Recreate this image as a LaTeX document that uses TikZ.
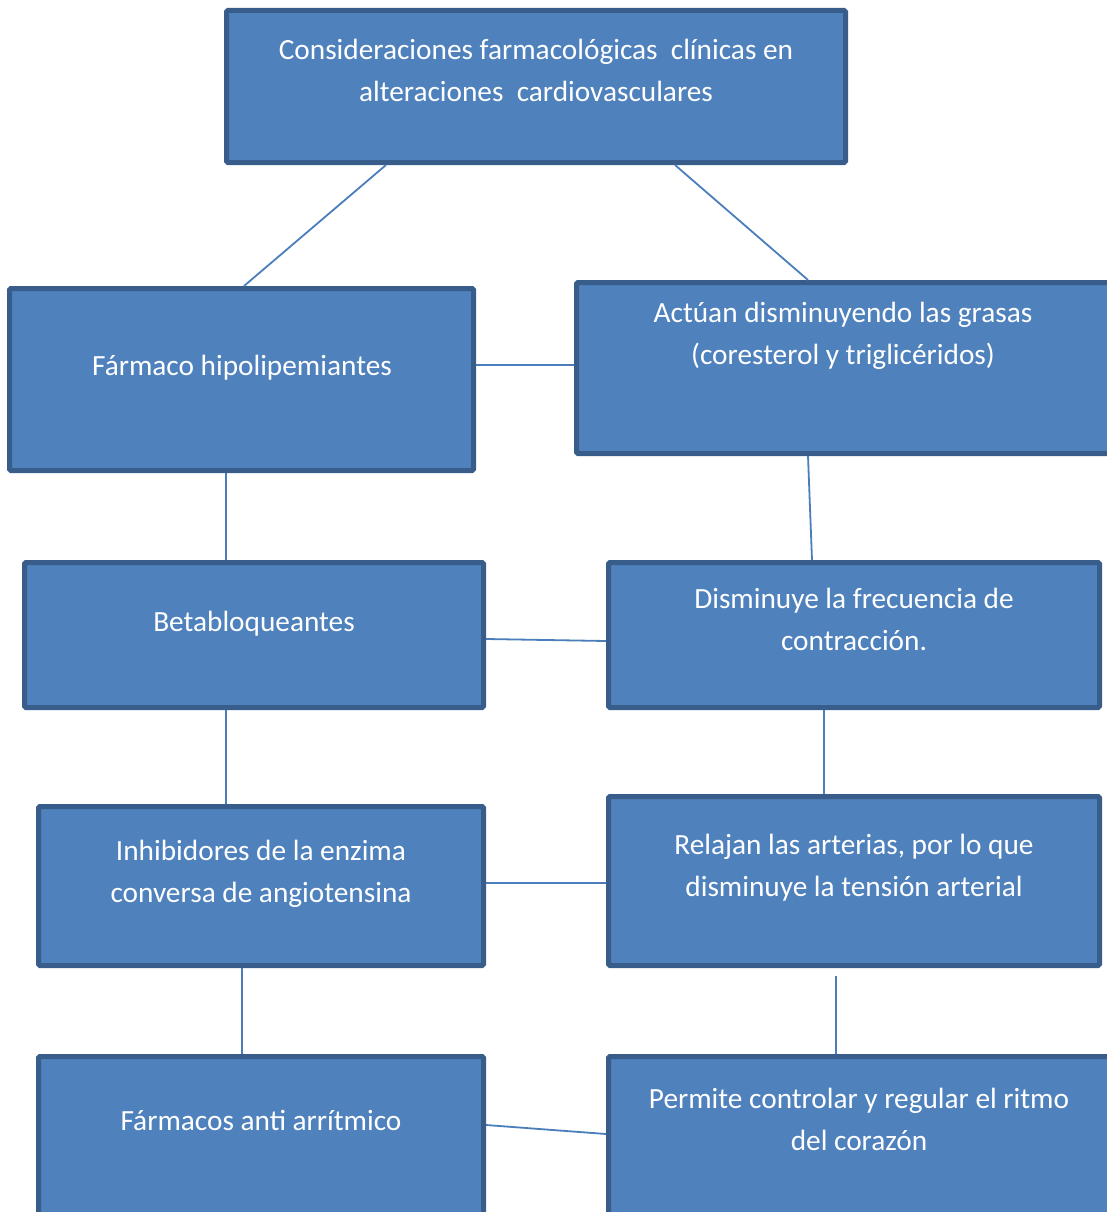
\documentclass[tikz,border=0pt]{standalone}
\usepackage{fontspec}
\setmainfont{Carlito}
\usetikzlibrary{calc}
\definecolor{boxfill}{HTML}{4F81BD}
\definecolor{boxborder}{HTML}{385D8A}
\definecolor{linkcol}{HTML}{4A7EBB}
\tikzset{
  box/.style={draw=boxborder, line width=5pt, fill=boxfill, rounded corners=1.5pt, inner sep=0pt},
  txt/.style={text=white, align=center, inner sep=0pt, anchor=base,
    font=\fontsize{29.3}{42}\selectfont},
  link/.style={draw=linkcol, line width=1.8pt}
}
\begin{document}
\begin{tikzpicture}[x=1pt,y=-1pt]
\useasboundingbox (0,0) rectangle (1107,1212);
\clip (0,0) rectangle (1107,1212);
% boxes
\node[box, minimum width=619pt, minimum height=152pt] (top) at (536,86.5) {};
\node[box, minimum width=464pt, minimum height=182pt] (farm) at (241.5,379.5) {};
\node[box, minimum width=536pt, minimum height=171pt] (act) at (844.5,368) {};
\node[box, minimum width=459pt, minimum height=145pt] (beta) at (254,635) {};
\node[box, minimum width=491pt, minimum height=145pt] (dis) at (854,635) {};
\node[box, minimum width=445pt, minimum height=159pt] (inh) at (261,886) {};
\node[box, minimum width=491pt, minimum height=169pt] (rel) at (854,881) {};
\node[box, minimum width=445pt, minimum height=171pt] (fa) at (261,1142) {};
\node[box, minimum width=509pt, minimum height=171pt] (per) at (863,1142) {};
% texts (anchor = baseline of the last line)
\node[txt] (ttop) at (536,102) {Consideraciones farmacológicas\ \ clínicas en\\alteraciones\ \ cardiovasculares};
\node[txt] (tfarm) at (242,375) {Fármaco hipolipemiantes};
\node[txt] (tact) at (843,364) {Actúan disminuyendo las grasas\\(coresterol y triglicéridos)};
\node[txt] (tbeta) at (254,631) {Betabloqueantes};
\node[txt] (tdis) at (854,650) {Disminuye la frecuencia de\\contracción.};
\node[txt] (tinh) at (261,902) {Inhibidores de la enzima\\conversa de angiotensina};
\node[txt] (trel) at (854,896) {Relajan las arterias, por lo que\\disminuye la tensión arterial};
\node[txt] (tfa) at (261,1130) {Fármacos anti arrítmico};
\node[txt] (tper) at (859,1150) {Permite controlar y regular el ritmo\\del corazón};
% connectors
\draw[link] ([xshift=-150pt]top.south) -- ([xshift=2.5pt]farm.north);
\draw[link] ([xshift=139pt]top.south) -- ([xshift=-36.5pt]act.north);
\draw[link] ([yshift=14.5pt]farm.east) -- ([yshift=3pt]act.west);
\draw[link] ([xshift=-15.5pt]farm.south) -- ([xshift=-28pt]beta.north);
\draw[link] ([xshift=-36.5pt]act.south) -- ([xshift=-42pt]dis.north);
\draw[link] ([yshift=-4pt]beta.east) -- ([yshift=-6pt]dis.west);
\draw[link] ([xshift=-28pt]beta.south) -- ([xshift=-35pt]inh.north);
\draw[link] ([xshift=-30pt]dis.south) -- ([xshift=-30pt]rel.north);
\draw[link] ([yshift=3pt]inh.east) -- ([yshift=-2pt]rel.west);
\draw[link] ([xshift=-19pt]inh.south) -- ([xshift=-19pt]fa.north);
\coordinate (relgap) at ([xshift=-18pt,yshift=-8pt]rel.south);
\draw[link] (relgap) -- ([xshift=-27pt]per.north);
\draw[link] ([yshift=17pt]fa.east) -- ([yshift=8pt]per.west);
\end{tikzpicture}
\end{document}
